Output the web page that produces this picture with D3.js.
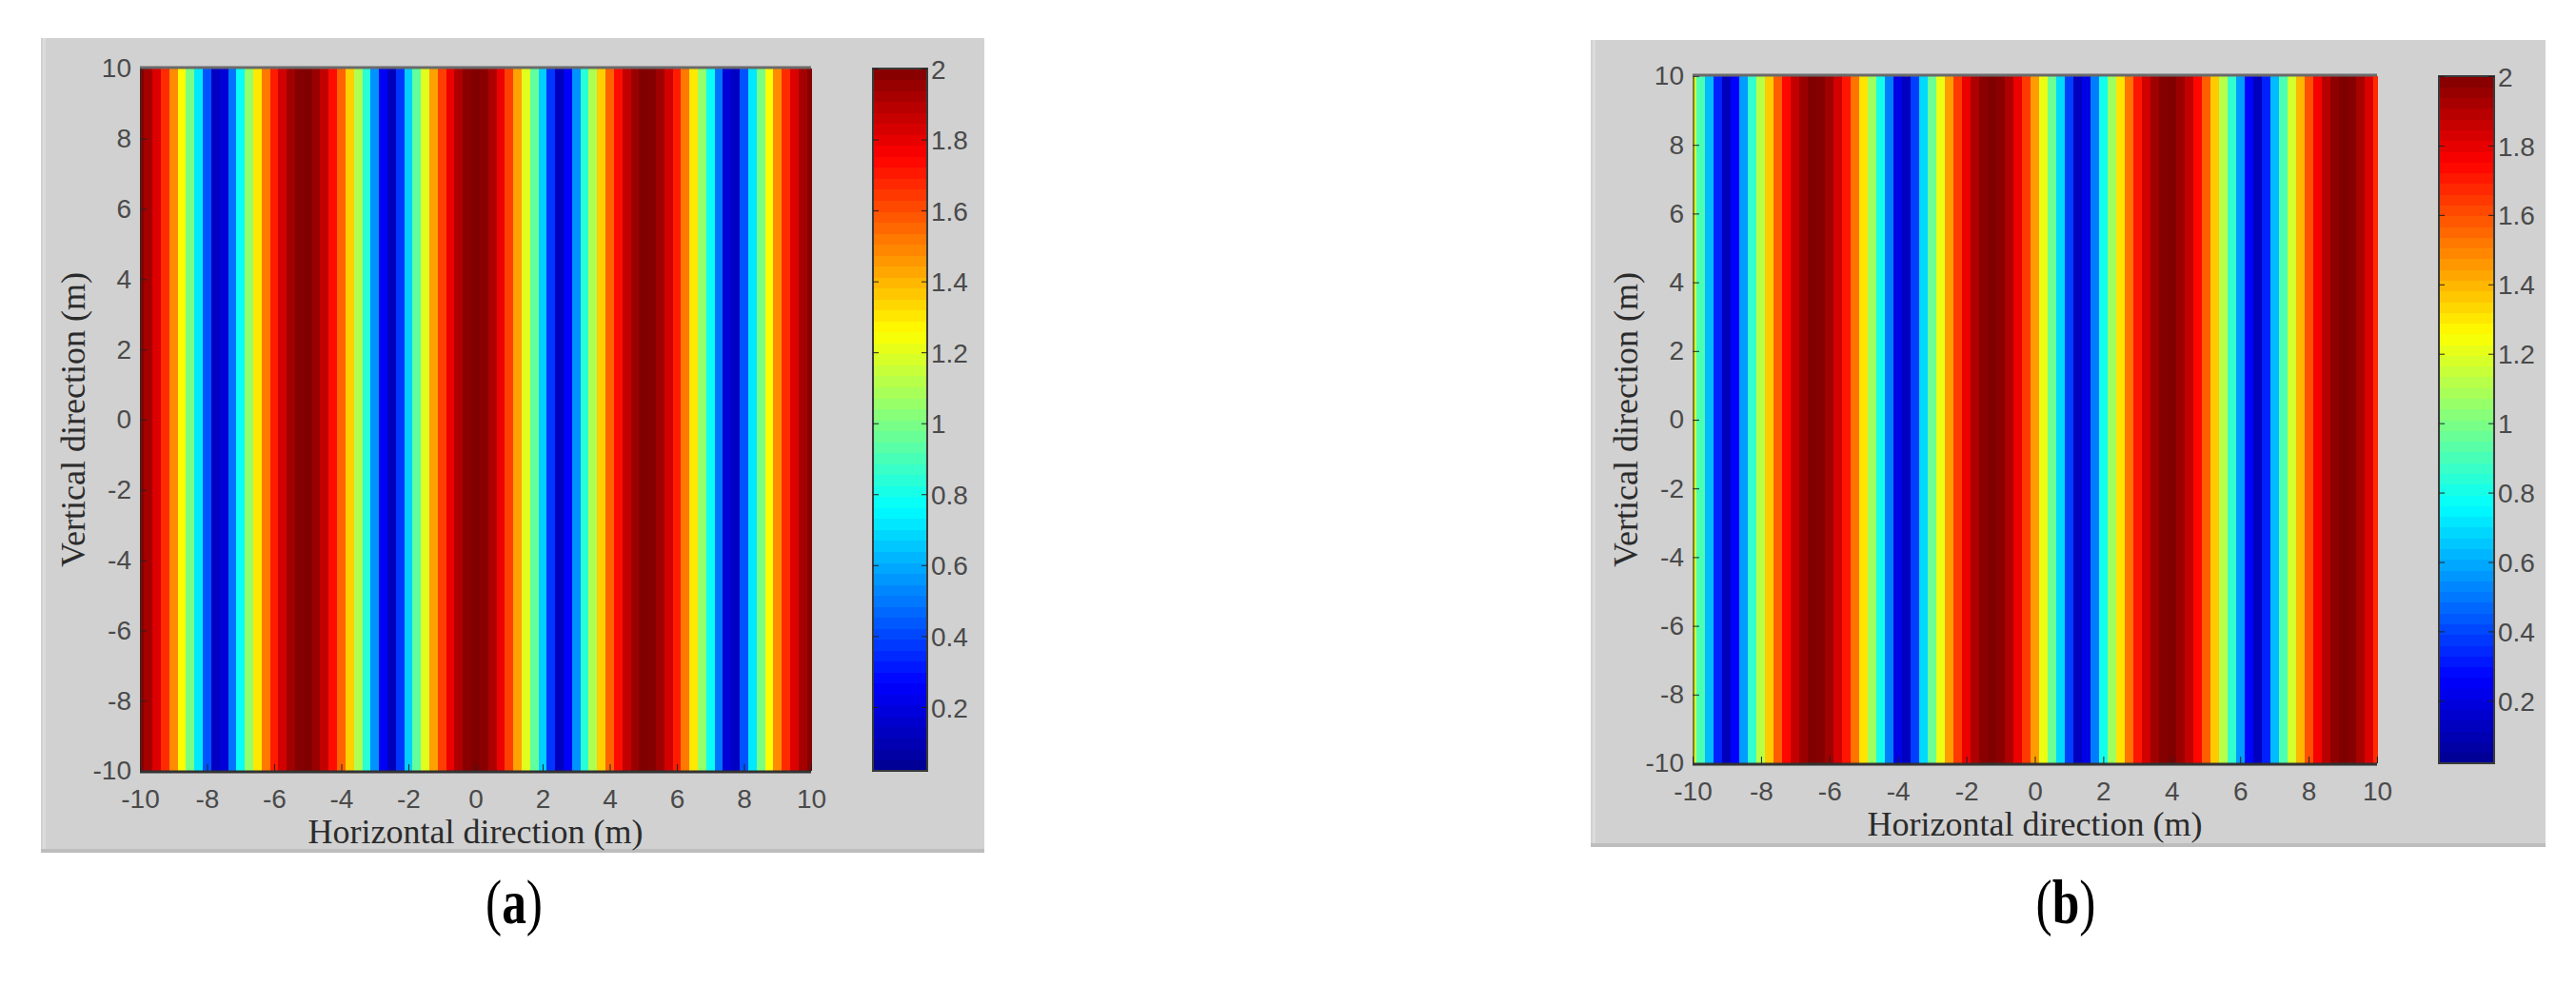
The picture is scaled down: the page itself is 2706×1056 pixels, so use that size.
<!DOCTYPE html>
<html>
<head>
<meta charset="utf-8">
<script src="https://cdn.jsdelivr.net/npm/d3@7"></script>
<style>
    html, body { margin: 0; padding: 0; background: #ffffff; }
    svg { display: block; }
    .tick text { font-family: "Liberation Sans", Arial, sans-serif; font-size: 28px; fill: #4a4a4a; }
    .tick line { stroke: #222222; }
    .axis-title { font-family: "Liberation Serif", "Times New Roman", serif; font-size: 36px; fill: #2b2b2b; }
    .panel-tag { font-family: "Liberation Serif", "Times New Roman", serif; font-size: 66px; fill: #000000; }
</style>
</head>
<body>
<svg id="chart" width="2706" height="1056"></svg>
<script>

// Sample positions along the horizontal direction (m), one column each
var gridX = [-10, -9.75, -9.5, -9.25, -9, -8.75, -8.5, -8.25, -8, -7.75, -7.5, -7.25, -7, -6.75, -6.5, -6.25,
    -6, -5.75, -5.5, -5.25, -5, -4.75, -4.5, -4.25, -4, -3.75, -3.5, -3.25, -3, -2.75, -2.5, -2.25,
    -2, -1.75, -1.5, -1.25, -1, -0.75, -0.5, -0.25, 0, 0.25, 0.5, 0.75, 1, 1.25, 1.5, 1.75,
    2, 2.25, 2.5, 2.75, 3, 3.25, 3.5, 3.75, 4, 4.25, 4.5, 4.75, 5, 5.25, 5.5, 5.75,
    6, 6.25, 6.5, 6.75, 7, 7.25, 7.5, 7.75, 8, 8.25, 8.5, 8.75, 9, 9.25, 9.5, 9.75, 10];

// Field value of each column, panel (a)
var valuesA = [1.99, 1.93, 1.82, 1.67, 1.48, 1.26, 1.00, 0.72, 0.43, 0.14, 0.18, 0.49, 0.78, 1.05, 1.30, 1.52,
    1.70, 1.84, 1.94, 1.99, 2.00, 1.95, 1.87, 1.73, 1.56, 1.35, 1.10, 0.84, 0.55, 0.25, 0.12, 0.37,
    0.67, 0.95, 1.20, 1.44, 1.63, 1.79, 1.91, 1.98, 2.00, 1.98, 1.91, 1.79, 1.63, 1.44, 1.20, 0.95,
    0.67, 0.37, 0.12, 0.25, 0.55, 0.84, 1.10, 1.35, 1.56, 1.73, 1.87, 1.95, 2.00, 1.99, 1.94, 1.84,
    1.70, 1.52, 1.30, 1.05, 0.78, 0.49, 0.18, 0.14, 0.43, 0.72, 1.00, 1.26, 1.48, 1.67, 1.82, 1.93, 1.99];

// Field value of each column, panel (b)
var valuesB = [1.17, 0.91, 0.63, 0.33, 0.12, 0.27, 0.57, 0.86, 1.12, 1.36, 1.57, 1.74, 1.87, 1.95, 2.00, 1.99,
    1.94, 1.84, 1.71, 1.53, 1.31, 1.07, 0.80, 0.51, 0.21, 0.13, 0.39, 0.69, 0.97, 1.22, 1.45, 1.64,
    1.79, 1.91, 1.98, 2.00, 1.98, 1.91, 1.79, 1.64, 1.45, 1.22, 0.97, 0.69, 0.39, 0.13, 0.21, 0.51,
    0.80, 1.07, 1.31, 1.53, 1.71, 1.84, 1.94, 1.99, 2.00, 1.95, 1.87, 1.74, 1.57, 1.36, 1.12, 0.86,
    0.57, 0.27, 0.12, 0.33, 0.63, 0.91, 1.17, 1.40, 1.60, 1.77, 1.89, 1.97, 2.00, 1.99, 1.92, 1.82, 1.67];

var xTicks = [-10, -8, -6, -4, -2, 0, 2, 4, 6, 8, 10];
var yTicks = [-10, -8, -6, -4, -2, 0, 2, 4, 6, 8, 10];
var colorTicks = [0.2, 0.4, 0.6, 0.8, 1, 1.2, 1.4, 1.6, 1.8, 2];
var colorTickLabels = ["0.2", "0.4", "0.6", "0.8", "1", "1.2", "1.4", "1.6", "1.8", "2"];
var colorRange = [0.02, 2];
var xTitle = "Horizontal direction (m)";
var yTitle = "Vertical direction (m)";
var panelTags = ["a", "b"];

// jet colormap
var jetStops = [0, 0.125, 0.375, 0.625, 0.875, 1];
var jetColors = ["#00008f", "#0000ff", "#00ffff", "#ffff00", "#ff0000", "#800000"];

var color = d3.scaleLinear()
    .domain(jetStops.map(function (f) { return colorRange[0] + f * (colorRange[1] - colorRange[0]); }))
    .range(jetColors)
    .clamp(true);

var svg = d3.select("#chart");

// layout of the two panels
var panels = [
    {values: valuesA, tag: panelTags[0],
        box: {x: 43, y: 40, w: 991, h: 856},
        plot: {x: 147, y: 72, w: 705, h: 738},
        bar: {x: 917, w: 57}, tagX: 540},
    {values: valuesB, tag: panelTags[1],
        box: {x: 1671, y: 42, w: 1003, h: 848},
        plot: {x: 1778, y: 80, w: 719, h: 722},
        bar: {x: 2562, w: 58}, tagX: 2170}
];

function drawPanel(p) {

    var g = svg.append("g");

    // grey figure background
    g.append("rect")
        .attr("x", p.box.x).attr("y", p.box.y)
        .attr("width", p.box.w).attr("height", p.box.h)
        .attr("fill", "#d1d1d1");
    g.append("rect")
        .attr("x", p.box.x).attr("y", p.box.y + p.box.h - 4)
        .attr("width", p.box.w).attr("height", 4)
        .attr("fill", "#bdbdbd");
    g.append("rect")
        .attr("x", p.box.x + 2).attr("y", p.box.y)
        .attr("width", 3).attr("height", p.box.h - 4)
        .attr("fill", "#dcdcdc");

    var xScale = d3.scaleLinear()
        .domain([-10, 10])
        .range([p.plot.x, p.plot.x + p.plot.w]);

    var yScale = d3.scaleLinear()
        .domain([-10, 10])
        .range([p.plot.y + p.plot.h, p.plot.y]);

    var half = 0.125;

    // the stripes: one column per sample
    g.append("g")
        .attr("shape-rendering", "crispEdges")
        .selectAll("rect")
        .data(gridX)
        .enter()
        .append("rect")
        .attr("x", function (d) { return xScale(Math.max(-10, d - half)); })
        .attr("width", function (d) {
            return xScale(Math.min(10, d + half)) - xScale(Math.max(-10, d - half)) + 0.6;
        })
        .attr("y", yScale(10))
        .attr("height", yScale(-10) - yScale(10))
        .attr("fill", function (d, i) { return color(p.values[i]); });

    // axes
    var xAxis = d3.axisBottom(xScale)
        .tickValues(xTicks)
        .tickFormat(function (d) { return String(d); })
        .tickSizeInner(-7)
        .tickSizeOuter(0)
        .tickPadding(19);

    var yAxis = d3.axisLeft(yScale)
        .tickValues(yTicks)
        .tickFormat(function (d) { return String(d); })
        .tickSizeInner(-7)
        .tickSizeOuter(0)
        .tickPadding(9);

    var gx = g.append("g")
        .attr("transform", "translate(0," + (p.plot.y + p.plot.h) + ")")
        .call(xAxis);
    gx.select(".domain").remove();

    var gy = g.append("g")
        .attr("transform", "translate(" + p.plot.x + ",0)")
        .call(yAxis);
    gy.select(".domain").remove();

    // plot frame
    g.append("line")
        .attr("x1", p.plot.x).attr("x2", p.plot.x + p.plot.w)
        .attr("y1", p.plot.y - 1).attr("y2", p.plot.y - 1)
        .attr("stroke", "#6a6a6a").attr("stroke-width", 3);
    g.append("line")
        .attr("x1", p.plot.x).attr("x2", p.plot.x + p.plot.w)
        .attr("y1", p.plot.y + p.plot.h + 1).attr("y2", p.plot.y + p.plot.h + 1)
        .attr("stroke", "#333333").attr("stroke-width", 3);
    g.append("line")
        .attr("x1", p.plot.x + 1).attr("x2", p.plot.x + 1)
        .attr("y1", p.plot.y).attr("y2", p.plot.y + p.plot.h)
        .attr("stroke", "#3a2a2a").attr("stroke-width", 2).attr("stroke-opacity", 0.6);

    // axis titles
    g.append("text")
        .attr("class", "axis-title")
        .attr("x", p.plot.x + p.plot.w / 2)
        .attr("y", p.plot.y + p.plot.h + 76)
        .attr("text-anchor", "middle")
        .text(xTitle);

    g.append("text")
        .attr("class", "axis-title")
        .attr("transform", "translate(" + (p.plot.x - 58) + "," + (p.plot.y + p.plot.h / 2) + ") rotate(-90)")
        .attr("text-anchor", "middle")
        .text(yTitle);

    // colorbar
    var barScale = d3.scaleLinear()
        .domain(colorRange)
        .range([p.plot.y + p.plot.h, p.plot.y]);

    var levels = d3.range(64);
    var step = (colorRange[1] - colorRange[0]) / 64;

    g.append("g")
        .attr("shape-rendering", "crispEdges")
        .selectAll("rect")
        .data(levels)
        .enter()
        .append("rect")
        .attr("x", p.bar.x)
        .attr("width", p.bar.w)
        .attr("y", function (k) { return barScale(colorRange[0] + (k + 1) * step); })
        .attr("height", function (k) {
            return barScale(colorRange[0] + k * step) - barScale(colorRange[0] + (k + 1) * step) + 0.6;
        })
        .attr("fill", function (k) { return color(colorRange[0] + (k + 0.5) * step); });

    g.append("rect")
        .attr("x", p.bar.x).attr("y", p.plot.y)
        .attr("width", p.bar.w).attr("height", p.plot.h)
        .attr("fill", "none")
        .attr("stroke", "#3a3a3a").attr("stroke-width", 2);

    var barRight = d3.axisRight(barScale)
        .tickValues(colorTicks)
        .tickFormat(function (d, i) { return colorTickLabels[i]; })
        .tickSizeInner(-6)
        .tickSizeOuter(0)
        .tickPadding(4);

    var barLeft = d3.axisLeft(barScale)
        .tickValues(colorTicks)
        .tickFormat("")
        .tickSizeInner(-6)
        .tickSizeOuter(0);

    var gb = g.append("g")
        .attr("transform", "translate(" + (p.bar.x + p.bar.w) + ",0)")
        .call(barRight);
    gb.select(".domain").remove();
    gb.selectAll(".tick text").attr("dy", "0.36em");

    var gbl = g.append("g")
        .attr("transform", "translate(" + p.bar.x + ",0)")
        .call(barLeft);
    gbl.select(".domain").remove();

    // panel tag, e.g. (a), drawn a little condensed
    var tag = svg.append("text")
        .attr("class", "panel-tag")
        .attr("transform", "translate(" + p.tagX + ",970) scale(0.78,1)")
        .attr("text-anchor", "middle");
    tag.append("tspan").text("(");
    tag.append("tspan").attr("font-weight", "bold").text(p.tag);
    tag.append("tspan").text(")");
}

panels.forEach(drawPanel);

</script>
</body>
</html>
